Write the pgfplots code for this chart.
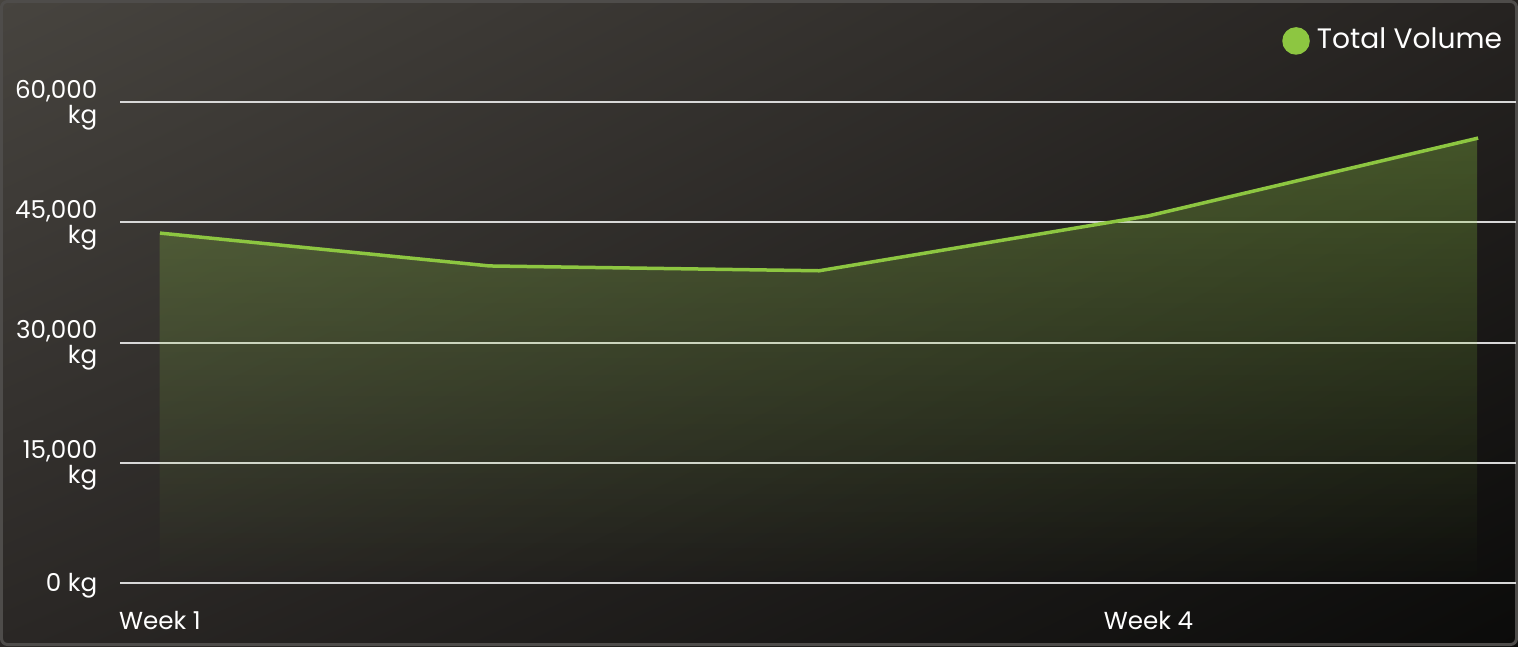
\documentclass[border=0pt]{standalone}
\usepackage{fontspec}
\setmainfont{Poppins}
\usepackage{pgfplots}
\pgfplotsset{compat=1.18}
\usetikzlibrary{fadings,shadings}

\definecolor{linegreen}{HTML}{8DC641}
\definecolor{gridgrey}{HTML}{D8D8D8}
\definecolor{bgUL}{HTML}{47443F}
\definecolor{bgUR}{HTML}{262321}
\definecolor{bgLL}{HTML}{2A2725}
\definecolor{bgLR}{HTML}{0B0B0A}
\definecolor{framegrey}{HTML}{4E4C4A}

\pgfplotstableread{
x y
0 43650
1 39550
2 38950
3 45800
4 55500
}\volume

\begin{document}
\begin{tikzpicture}
% card background
\useasboundingbox (0,0) rectangle (15.18cm,6.46cm);
\shade[upper left=bgUL, upper right=bgUR, lower left=bgLL, lower right=bgLR]
  (0,0) rectangle (15.18cm,6.46cm);
\draw[framegrey, line width=0.3mm, rounded corners=0.6mm]
  (0.015cm,0.015cm) rectangle (15.165cm,6.445cm);

\begin{axis}[
    at={(1.20cm,0.63cm)}, anchor=south west,
    width=13.96cm, height=4.81cm, scale only axis,
    xmin=-0.1214, xmax=4.115,
    ymin=0, ymax=60000,
    clip=false,
    scaled y ticks=false,
    axis line style={draw=none},
    tick style={draw=none},
    xtick={0,3},
    xticklabels={Week 1, Week 4},
    ytick={0,15000,30000,45000,60000},
    yticklabels={0 kg, {15,000\\kg}, {30,000\\kg}, {45,000\\kg}, {60,000\\kg}},
    ymajorgrids,
    major grid style={gridgrey, line width=0.2mm},
    ticklabel style={white, font=\fontsize{7}{7.1}\selectfont},
    yticklabel style={align=right, anchor=east, inner sep=0pt,
      xshift=-2.2mm, yshift=-0.3mm},
    xticklabel style={anchor=base, inner sep=0pt, yshift=-4.6mm},
    legend style={draw=none, fill=none, at={(0.9955,1.127)}, anchor=east,
      inner sep=0pt, text=white, font=\fontsize{8}{9}\selectfont,
      legend cell align=left},
]
\addplot[draw=none, fill=linegreen, fill opacity=0.32, path fading=south,
  forget plot] table {\volume} \closedcycle;
\addplot[linegreen, line width=0.35mm,
  legend image code/.code={\fill[linegreen] (0.5mm,0) circle (1.2mm);}]
  table {\volume};
\addlegendentry{Total Volume}
\end{axis}
\end{tikzpicture}
\end{document}
